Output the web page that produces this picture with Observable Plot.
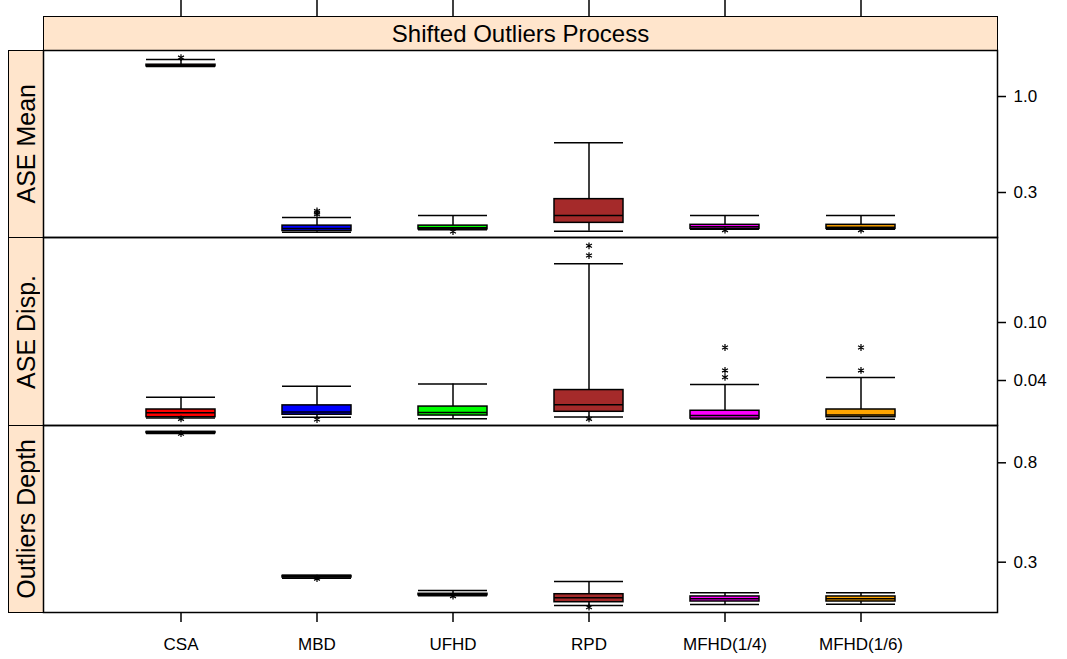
<!DOCTYPE html>
<html><head><meta charset="utf-8">
<script src="https://cdn.jsdelivr.net/npm/d3@7"></script>
<script src="https://cdn.jsdelivr.net/npm/@observablehq/plot@0.6"></script>
<style>
body{margin:0;background:#fff;}
#chart{position:relative;width:1067px;height:659px;font-family:"Liberation Sans",Arial,sans-serif;overflow:hidden;}
#chart svg{position:absolute;left:0;top:0;}
.strip{position:absolute;box-sizing:border-box;background:#FFE5CC;border:1.5px solid #000;display:flex;align-items:center;justify-content:center;font-size:24px;color:#000;}
.strip.v{font-size:25px;}
.strip.v span{writing-mode:vertical-rl;transform:rotate(180deg);white-space:nowrap;}
</style></head>
<body><div id="chart"></div>
<script>
// ---------- data ----------
const categories = ["CSA", "MBD", "UFHD", "RPD", "MFHD(1/4)", "MFHD(1/6)"];
const boxColors = ["red", "blue", "#00FF00", "brown", "magenta", "orange"];
const topStripLabel = "Shifted Outliers Process";
const panelLabels = ["ASE Mean", "ASE Disp.", "Outliers Depth"];

// ASE Mean
const meanLow    = [1.455, 0.182, 0.188, 0.1846, 0.189, 0.189];
const meanQ1     = [1.460, 0.185, 0.189, 0.205, 0.190, 0.190];
const meanMedian = [1.475, 0.191, 0.193, 0.225, 0.195, 0.194];
const meanQ3     = [1.490, 0.198, 0.198, 0.276, 0.200, 0.200];
const meanHigh   = [1.590, 0.219, 0.225, 0.560, 0.225, 0.225];
const meanOutlierCat   = ["CSA", "MBD", "MBD", "MBD", "UFHD", "MFHD(1/4)", "MFHD(1/6)"];
const meanOutlierValue = [1.63, 0.228, 0.233, 0.238, 0.184, 0.187, 0.187];
const meanTicks = [1.0, 0.3];
const meanTickLabels = ["1.0", "0.3"];

// ASE Disp.
const dispLow    = [0.0221, 0.0224, 0.0219, 0.0225, 0.0218, 0.0217];
const dispQ1     = [0.0224, 0.0233, 0.0230, 0.0244, 0.0219, 0.0224];
const dispMedian = [0.0240, 0.0243, 0.0241, 0.0273, 0.0230, 0.0232];
const dispQ3     = [0.0253, 0.0270, 0.0265, 0.0344, 0.0248, 0.0253];
const dispHigh   = [0.0307, 0.0366, 0.0379, 0.2527, 0.0376, 0.0420];
const dispOutlierCat   = ["CSA", "MBD", "RPD", "RPD", "RPD", "MFHD(1/4)", "MFHD(1/4)", "MFHD(1/4)", "MFHD(1/6)", "MFHD(1/6)"];
const dispOutlierValue = [0.0218, 0.0216, 0.288, 0.336, 0.0218, 0.0421, 0.0469, 0.0674, 0.0469, 0.0674];
const dispTicks = [0.10, 0.04];
const dispTickLabels = ["0.10", "0.04"];

// Outliers Depth
const depthLow    = [1.067, 0.256, 0.2155, 0.1956, 0.1976, 0.1980];
const depthQ1     = [1.072, 0.258, 0.2164, 0.2021, 0.2035, 0.2035];
const depthMedian = [1.078, 0.260, 0.2182, 0.2110, 0.2091, 0.2091];
const depthQ3     = [1.084, 0.262, 0.2196, 0.2187, 0.2139, 0.2139];
const depthHigh   = [1.089, 0.264, 0.2266, 0.2479, 0.2218, 0.2218];
const depthOutlierCat   = ["CSA", "MBD", "UFHD", "RPD"];
const depthOutlierValue = [1.066, 0.255, 0.2145, 0.1924];
const depthTicks = [0.8, 0.3];
const depthTickLabels = ["0.8", "0.3"];

// ---------- layout ----------
const W = 1067, H = 659;
const frameLeft = 43, frameRight = 997;
const panels = [
  {low: meanLow, q1: meanQ1, med: meanMedian, q3: meanQ3, high: meanHigh,
   oc: meanOutlierCat, ov: meanOutlierValue, ticks: meanTicks, labels: meanTickLabels,
   domain: [0.1706, 1.781], top: 50, bottom: 237},
  {low: dispLow, q1: dispQ1, med: dispMedian, q3: dispQ3, high: dispHigh,
   oc: dispOutlierCat, ov: dispOutlierValue, ticks: dispTicks, labels: dispTickLabels,
   domain: [0.01965, 0.383], top: 237, bottom: 425},
  {low: depthLow, q1: depthQ1, med: depthMedian, q3: depthQ3, high: depthHigh,
   oc: depthOutlierCat, ov: depthOutlierValue, ticks: depthTicks, labels: depthTickLabels,
   domain: [0.1826, 1.156], top: 425, bottom: 612}
];

const chart = document.getElementById("chart");
const font = '"Liberation Sans", Arial, sans-serif';

// strips
function addStrip(cls, left, top, width, height, text) {
  const d = document.createElement("div");
  d.className = "strip " + cls;
  Object.assign(d.style, {left: left + "px", top: top + "px", width: width + "px", height: height + "px"});
  const s = document.createElement("span");
  s.textContent = text;
  d.appendChild(s);
  chart.appendChild(d);
}
addStrip("h", frameLeft, 16, frameRight - frameLeft + 1, 35, topStripLabel);
panels.forEach((p, i) => addStrip("v", 8, p.top, frameLeft - 8 + 1, p.bottom - p.top + 1, panelLabels[i]));

const xScale = {type: "band", domain: categories, paddingInner: 0.493, paddingOuter: 0.7465, align: 0.5, label: null, axis: null};
const svgStyle = {background: "transparent", overflow: "visible", fontFamily: font, color: "black"};

// top ticks
chart.appendChild(Plot.plot({
  width: W, height: H,
  marginLeft: frameLeft, marginRight: W - frameRight, marginTop: 0, marginBottom: H - 16,
  style: svgStyle,
  x: xScale,
  marks: [Plot.ruleX(categories, {x: d => d, stroke: "black", strokeWidth: 1.5})]
}));

panels.forEach((p, pi) => {
  const rows = categories.map((c, i) => ({cat: c, color: boxColors[i], lo: p.low[i], q1: p.q1[i], med: p.med[i], q3: p.q3[i], hi: p.high[i]}));
  const outs = p.oc.map((c, i) => ({cat: c, value: p.ov[i]}));
  const tickRows = p.ticks.map((t, i) => ({value: t, label: p.labels[i]}));
  const marks = [
    Plot.ruleX(rows, {x: "cat", y1: "q3", y2: "hi", stroke: "black", strokeWidth: 1.5}),
    Plot.ruleX(rows, {x: "cat", y1: "lo", y2: "q1", stroke: "black", strokeWidth: 1.5}),
    Plot.tickY(rows, {x: "cat", y: "hi", stroke: "black", strokeWidth: 1.5}),
    Plot.tickY(rows, {x: "cat", y: "lo", stroke: "black", strokeWidth: 1.5}),
    Plot.barY(rows, {x: "cat", y1: "q1", y2: "q3", fill: "color", stroke: "black", strokeWidth: 1.5}),
    Plot.tickY(rows, {x: "cat", y: "med", stroke: "black", strokeWidth: 1.5}),
    Plot.dot(outs, {x: "cat", y: "value", symbol: "asterisk", r: 3.2, stroke: "black", strokeWidth: 1.2}),
    Plot.axisY(p.ticks, {anchor: "right", tickSize: 8, tickFormat: () => "", strokeWidth: 1.5, label: null}),
    Plot.text(tickRows, {y: "value", text: "label", frameAnchor: "right", dx: 16, textAnchor: "start", fontSize: 17, fill: "black"}),
    Plot.frame({stroke: "black", strokeWidth: 1.5})
  ];
  if (pi === 2) {
    marks.push(Plot.axisX({anchor: "bottom", tickSize: 10, tickPadding: 15, fontSize: 17, strokeWidth: 1.5, label: null}));
  }
  chart.appendChild(Plot.plot({
    width: W, height: H,
    marginLeft: frameLeft, marginRight: W - frameRight, marginTop: p.top, marginBottom: H - p.bottom,
    style: svgStyle,
    x: xScale,
    y: {type: "log", domain: p.domain, axis: null, label: null},
    marks
  }));
});
</script>
</body></html>
